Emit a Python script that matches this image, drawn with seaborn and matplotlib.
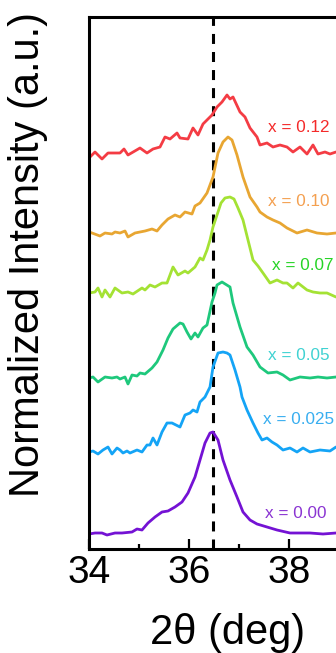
import matplotlib
matplotlib.use("Agg")
import matplotlib.pyplot as plt
import seaborn as sns
import pandas as pd
from matplotlib.ticker import MultipleLocator

# ---------------- data ----------------
compositions = ["x = 0.12", "x = 0.10", "x = 0.07", "x = 0.05", "x = 0.025", "x = 0.00"]

tt_012 = [34.00, 34.12, 34.26, 34.38, 34.62, 34.70, 34.78, 35.02, 35.16, 35.28, 35.42, 35.52, 35.62, 35.76,
          35.82, 35.98, 36.08, 36.18, 36.28, 36.46, 36.56, 36.66, 36.76, 36.82, 36.88, 37.02, 37.12, 37.22,
          37.36, 37.42, 37.56, 37.68, 37.82, 37.96, 38.08, 38.22, 38.36, 38.48, 38.58, 38.72, 38.82, 38.94]
int_012 = [3.91, 3.97, 3.90, 3.96, 3.96, 4.00, 3.94, 4.01, 3.96, 4.00, 4.02, 4.12, 4.10, 4.16,
           4.11, 4.10, 4.21, 4.14, 4.25, 4.34, 4.42, 4.47, 4.54, 4.50, 4.52, 4.37, 4.32, 4.21,
           4.12, 4.04, 4.06, 4.02, 4.04, 4.02, 3.97, 4.02, 3.95, 4.04, 3.95, 3.97, 3.95, 3.97]

tt_010 = [34.00, 34.06, 34.22, 34.32, 34.46, 34.52, 34.62, 34.72, 34.78, 34.92, 35.12, 35.26, 35.36, 35.46,
          35.58, 35.72, 35.82, 35.92, 36.06, 36.12, 36.22, 36.36, 36.48, 36.58, 36.68, 36.78, 36.86, 36.96,
          37.08, 37.22, 37.36, 37.42, 37.56, 37.68, 37.82, 37.96, 38.16, 38.36, 38.56, 38.76, 38.94]
int_010 = [3.17, 3.16, 3.13, 3.16, 3.15, 3.17, 3.16, 3.18, 3.12, 3.16, 3.18, 3.20, 3.18, 3.24,
           3.30, 3.34, 3.32, 3.37, 3.35, 3.43, 3.46, 3.56, 3.72, 3.96, 4.07, 4.12, 4.09, 3.94,
           3.72, 3.52, 3.42, 3.37, 3.32, 3.29, 3.26, 3.21, 3.16, 3.19, 3.16, 3.15, 3.16]

tt_007 = [34.00, 34.12, 34.18, 34.26, 34.32, 34.42, 34.52, 34.66, 34.78, 34.88, 35.06, 35.12, 35.22, 35.32,
          35.46, 35.56, 35.68, 35.78, 35.92, 35.98, 36.12, 36.22, 36.28, 36.36, 36.42, 36.48, 36.56, 36.64,
          36.72, 36.82, 36.90, 36.98, 37.08, 37.18, 37.28, 37.38, 37.48, 37.62, 37.76, 37.88, 37.96, 38.08,
          38.18, 38.36, 38.48, 38.62, 38.76, 38.94]
int_007 = [2.56, 2.57, 2.61, 2.52, 2.59, 2.52, 2.61, 2.56, 2.57, 2.55, 2.61, 2.59, 2.64, 2.62,
           2.66, 2.66, 2.82, 2.74, 2.78, 2.76, 2.82, 2.91, 2.89, 2.99, 3.09, 3.22, 3.34, 3.46,
           3.51, 3.52, 3.50, 3.41, 3.29, 3.09, 2.89, 2.83, 2.76, 2.66, 2.69, 2.66, 2.66, 2.61,
           2.66, 2.59, 2.57, 2.56, 2.56, 2.52]

tt_005 = [34.00, 34.08, 34.18, 34.32, 34.46, 34.56, 34.62, 34.72, 34.78, 34.86, 34.96, 35.02, 35.12, 35.26,
          35.36, 35.48, 35.58, 35.68, 35.82, 35.88, 35.96, 36.04, 36.12, 36.18, 36.28, 36.36, 36.46, 36.52,
          36.56, 36.66, 36.82, 36.88, 37.02, 37.16, 37.28, 37.42, 37.58, 37.76, 37.88, 38.02, 38.22, 38.42,
          38.58, 38.76, 38.94]
int_005 = [1.71, 1.72, 1.67, 1.72, 1.71, 1.72, 1.70, 1.72, 1.65, 1.74, 1.73, 1.76, 1.75, 1.81,
           1.87, 1.99, 2.11, 2.20, 2.26, 2.25, 2.17, 2.10, 2.16, 2.12, 2.21, 2.24, 2.47, 2.56,
           2.64, 2.67, 2.62, 2.46, 2.22, 2.02, 1.94, 1.82, 1.76, 1.77, 1.74, 1.69, 1.72, 1.71,
           1.72, 1.71, 1.72]

tt_0025 = [34.00, 34.08, 34.18, 34.28, 34.38, 34.46, 34.56, 34.62, 34.68, 34.76, 34.82, 34.96, 35.06, 35.16,
           35.22, 35.28, 35.36, 35.46, 35.56, 35.66, 35.82, 35.92, 36.02, 36.08, 36.16, 36.22, 36.32, 36.42,
           36.48, 36.58, 36.68, 36.76, 36.82, 36.92, 37.02, 37.06, 37.16, 37.28, 37.38, 37.46, 37.56, 37.66,
           37.76, 37.88, 38.02, 38.16, 38.28, 38.42, 38.62, 38.82, 38.94]
int_0025 = [0.97, 0.98, 0.95, 0.99, 1.02, 0.95, 1.01, 0.99, 0.96, 0.98, 0.96, 0.99, 0.97, 1.04,
            1.04, 1.11, 1.04, 1.17, 1.26, 1.26, 1.22, 1.34, 1.36, 1.39, 1.37, 1.47, 1.52, 1.62,
            1.82, 1.96, 1.97, 1.96, 1.94, 1.79, 1.62, 1.52, 1.39, 1.26, 1.16, 1.09, 1.11, 1.07,
            1.04, 0.99, 1.01, 0.97, 1.01, 0.97, 0.99, 0.98, 1.02]

tt_000 = [34.00, 34.12, 34.26, 34.36, 34.52, 34.66, 34.86, 34.96, 35.06, 35.18, 35.32, 35.46, 35.58, 35.72,
          35.86, 35.98, 36.12, 36.22, 36.32, 36.42, 36.48, 36.58, 36.68, 36.82, 36.96, 37.08, 37.22, 37.36,
          37.56, 37.76, 38.02, 38.42, 38.68, 38.94]
int_000 = [0.15, 0.16, 0.16, 0.14, 0.16, 0.16, 0.17, 0.20, 0.19, 0.26, 0.32, 0.37, 0.38, 0.42,
           0.47, 0.56, 0.72, 0.89, 1.06, 1.16, 1.17, 1.09, 0.89, 0.69, 0.52, 0.37, 0.29, 0.25,
           0.22, 0.19, 0.16, 0.16, 0.15, 0.16]

label_x = [37.58, 37.58, 37.66, 37.58, 37.48, 37.52]
label_y = [4.22, 3.47, 2.84, 1.94, 1.29, 0.36]

reference_peak = 36.48
x_ticks = [34, 36, 38]

line_colors = ["#f43c44", "#e8a632", "#a4e234", "#1ec87c", "#14a4f6", "#7412d4"]
text_colors = ["#f42a2a", "#f4a050", "#26d426", "#40d2d2", "#38aef0", "#8a34d2"]

# ---------------- build table ----------------
series_t = [tt_012, tt_010, tt_007, tt_005, tt_0025, tt_000]
series_i = [int_012, int_010, int_007, int_005, int_0025, int_000]
frames = []
for comp, t, i in zip(compositions, series_t, series_i):
    frames.append(pd.DataFrame({"two_theta": t, "intensity": i, "comp": comp}))
df = pd.concat(frames, ignore_index=True)

# ---------------- plot ----------------
sns.set_style("ticks")
plt.rcParams["font.family"] = ["Liberation Sans", "DejaVu Sans"]
plt.rcParams["lines.scale_dashes"] = False
plt.rcParams["text.color"] = "black"
plt.rcParams["axes.labelcolor"] = "black"
plt.rcParams["xtick.color"] = "black"
plt.rcParams["ytick.color"] = "black"

fig = plt.figure(figsize=(3.36, 6.53), dpi=100)
ax = fig.add_axes([89 / 336, 104 / 653, 300 / 336, 532 / 653])

sns.lineplot(data=df, x="two_theta", y="intensity", hue="comp", hue_order=compositions,
             palette=line_colors, legend=False, ax=ax, linewidth=2.0,
             estimator=None, sort=False)

ax.axvline(reference_peak, color="black", linewidth=2.2, dashes=(7.2, 5.8), zorder=1)

for lab, lx, ly, c in zip(compositions, label_x, label_y, text_colors):
    ax.text(lx, ly, lab, color=c, fontsize=12.3, ha="left", va="center")

ax.set_xlim(34, 40)
ax.set_ylim(0, 5.32)
ax.set_xticks(x_ticks)
ax.xaxis.set_minor_locator(MultipleLocator(1))
ax.set_yticks([])
ax.tick_params(axis="x", which="major", direction="in", length=7, width=1.6,
               labelsize=28, pad=4, colors="black")
ax.tick_params(axis="x", which="minor", direction="in", length=3.5, width=1.6, colors="black")
for sp in ax.spines.values():
    sp.set_linewidth(2.2)
    sp.set_color("black")

ax.set_xlabel("2θ (deg)", fontsize=30, va="center", color="black")
ax.xaxis.set_label_coords(0.463, -0.158)
ax.set_ylabel("Normalized Intensity (a.u.)", fontsize=30, va="center", color="black")
ax.yaxis.set_label_coords(-0.203, 0.553)

fig.savefig("out.png", dpi=100)
